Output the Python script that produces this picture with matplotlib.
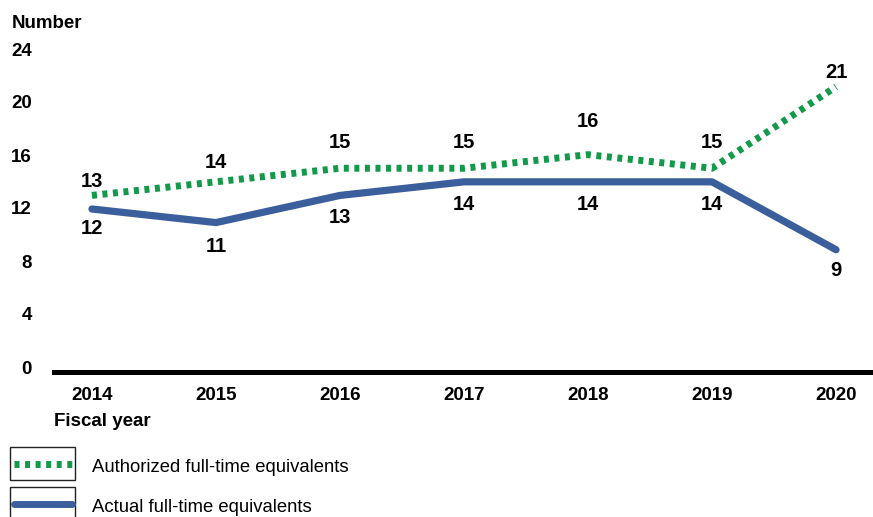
import matplotlib
matplotlib.use('Agg')
import matplotlib.pyplot as plt
from matplotlib.patches import Rectangle
from matplotlib.lines import Line2D

# 数据
years = [2014, 2015, 2016, 2017, 2018, 2019, 2020]
authorized = [13, 14, 15, 15, 16, 15, 21]
actual = [12, 11, 13, 14, 14, 14, 9]
y_ticks = [0, 4, 8, 12, 16, 20, 24]

# 数据标签的偏移（像素）
auth_off = [14, 19, 26, 26, 33, 26, 14]
act_off = [20, 24, 22, 23, 23, 23, 21]

green = '#13994a'
blue = '#3a5f9c'
dots = (0, (0.72, 0.8))

plt.rcParams['font.family'] = ['Liberation Sans', 'DejaVu Sans']

W, H = 873, 517
fig = plt.figure(figsize=(W / 100, H / 100), dpi=100)

# 坐标区（像素换算）
x0, x1, ytop, ybot = 54, 873, 46, 372
ax = fig.add_axes([x0 / W, (H - ybot) / H, (x1 - x0) / W, (ybot - ytop) / H])
ax.set_xlim(2014 - 0.306, 2020 + 0.298)
ax.set_ylim(0, 24)

ax.plot(years, authorized, color=green, lw=5, linestyle=dots,
        dash_capstyle='butt', clip_on=False)
ax.plot(years, actual, color=blue, lw=5.2, solid_capstyle='round',
        solid_joinstyle='round', clip_on=False)

for x, a, b, oa, ob in zip(years, authorized, actual, auth_off, act_off):
    ax.annotate(str(a), (x, a), xytext=(0, oa * 0.72), textcoords='offset points',
                ha='center', va='center', fontsize=14.5, fontweight='bold')
    ax.annotate(str(b), (x, b), xytext=(0, -ob * 0.72), textcoords='offset points',
                ha='center', va='center', fontsize=14.5, fontweight='bold')

for s in ['top', 'right', 'left']:
    ax.spines[s].set_visible(False)
ax.spines['bottom'].set_linewidth(3.6)
ax.spines['bottom'].set_color('black')
ax.set_yticks([])
ax.set_xticks(years)
ax.set_xticklabels([str(y) for y in years], fontsize=13.5, fontweight='bold')
ax.tick_params(axis='x', length=0, pad=11)

# y轴刻度标签（等距排列在坐标区外侧）
for i, t in enumerate(y_ticks):
    ypix = 369 - 53 * i
    fig.text(32 / W, (H - ypix) / H, str(t), ha='right', va='center',
             fontsize=13.5, fontweight='bold')

fig.text(12 / W, (H - 23) / H, 'Number', ha='left', va='center',
         fontsize=13.5, fontweight='bold')
fig.text(54 / W, (H - 422) / H, 'Fiscal year', ha='left', va='center',
         fontsize=13.5, fontweight='bold')

# 图例
items = [('Authorized full-time equivalents', green, dots, 'butt', 464),
         ('Actual full-time equivalents', blue, '-', 'round', 504)]
for label, c, ls, cap, yc in items:
    fig.add_artist(Rectangle((10 / W, (H - yc - 16) / H), 65 / W, 33 / H,
                             transform=fig.transFigure, fill=False,
                             edgecolor='#222222', lw=1))
    fig.add_artist(Line2D([14 / W, 72 / W], [(H - yc) / H] * 2,
                          transform=fig.transFigure, color=c, lw=5,
                          linestyle=ls, solid_capstyle=cap, dash_capstyle='butt'))
    fig.text(92 / W, (H - yc - 3) / H, label, ha='left', va='center', fontsize=13.3)

fig.savefig('out.png', dpi=100)
